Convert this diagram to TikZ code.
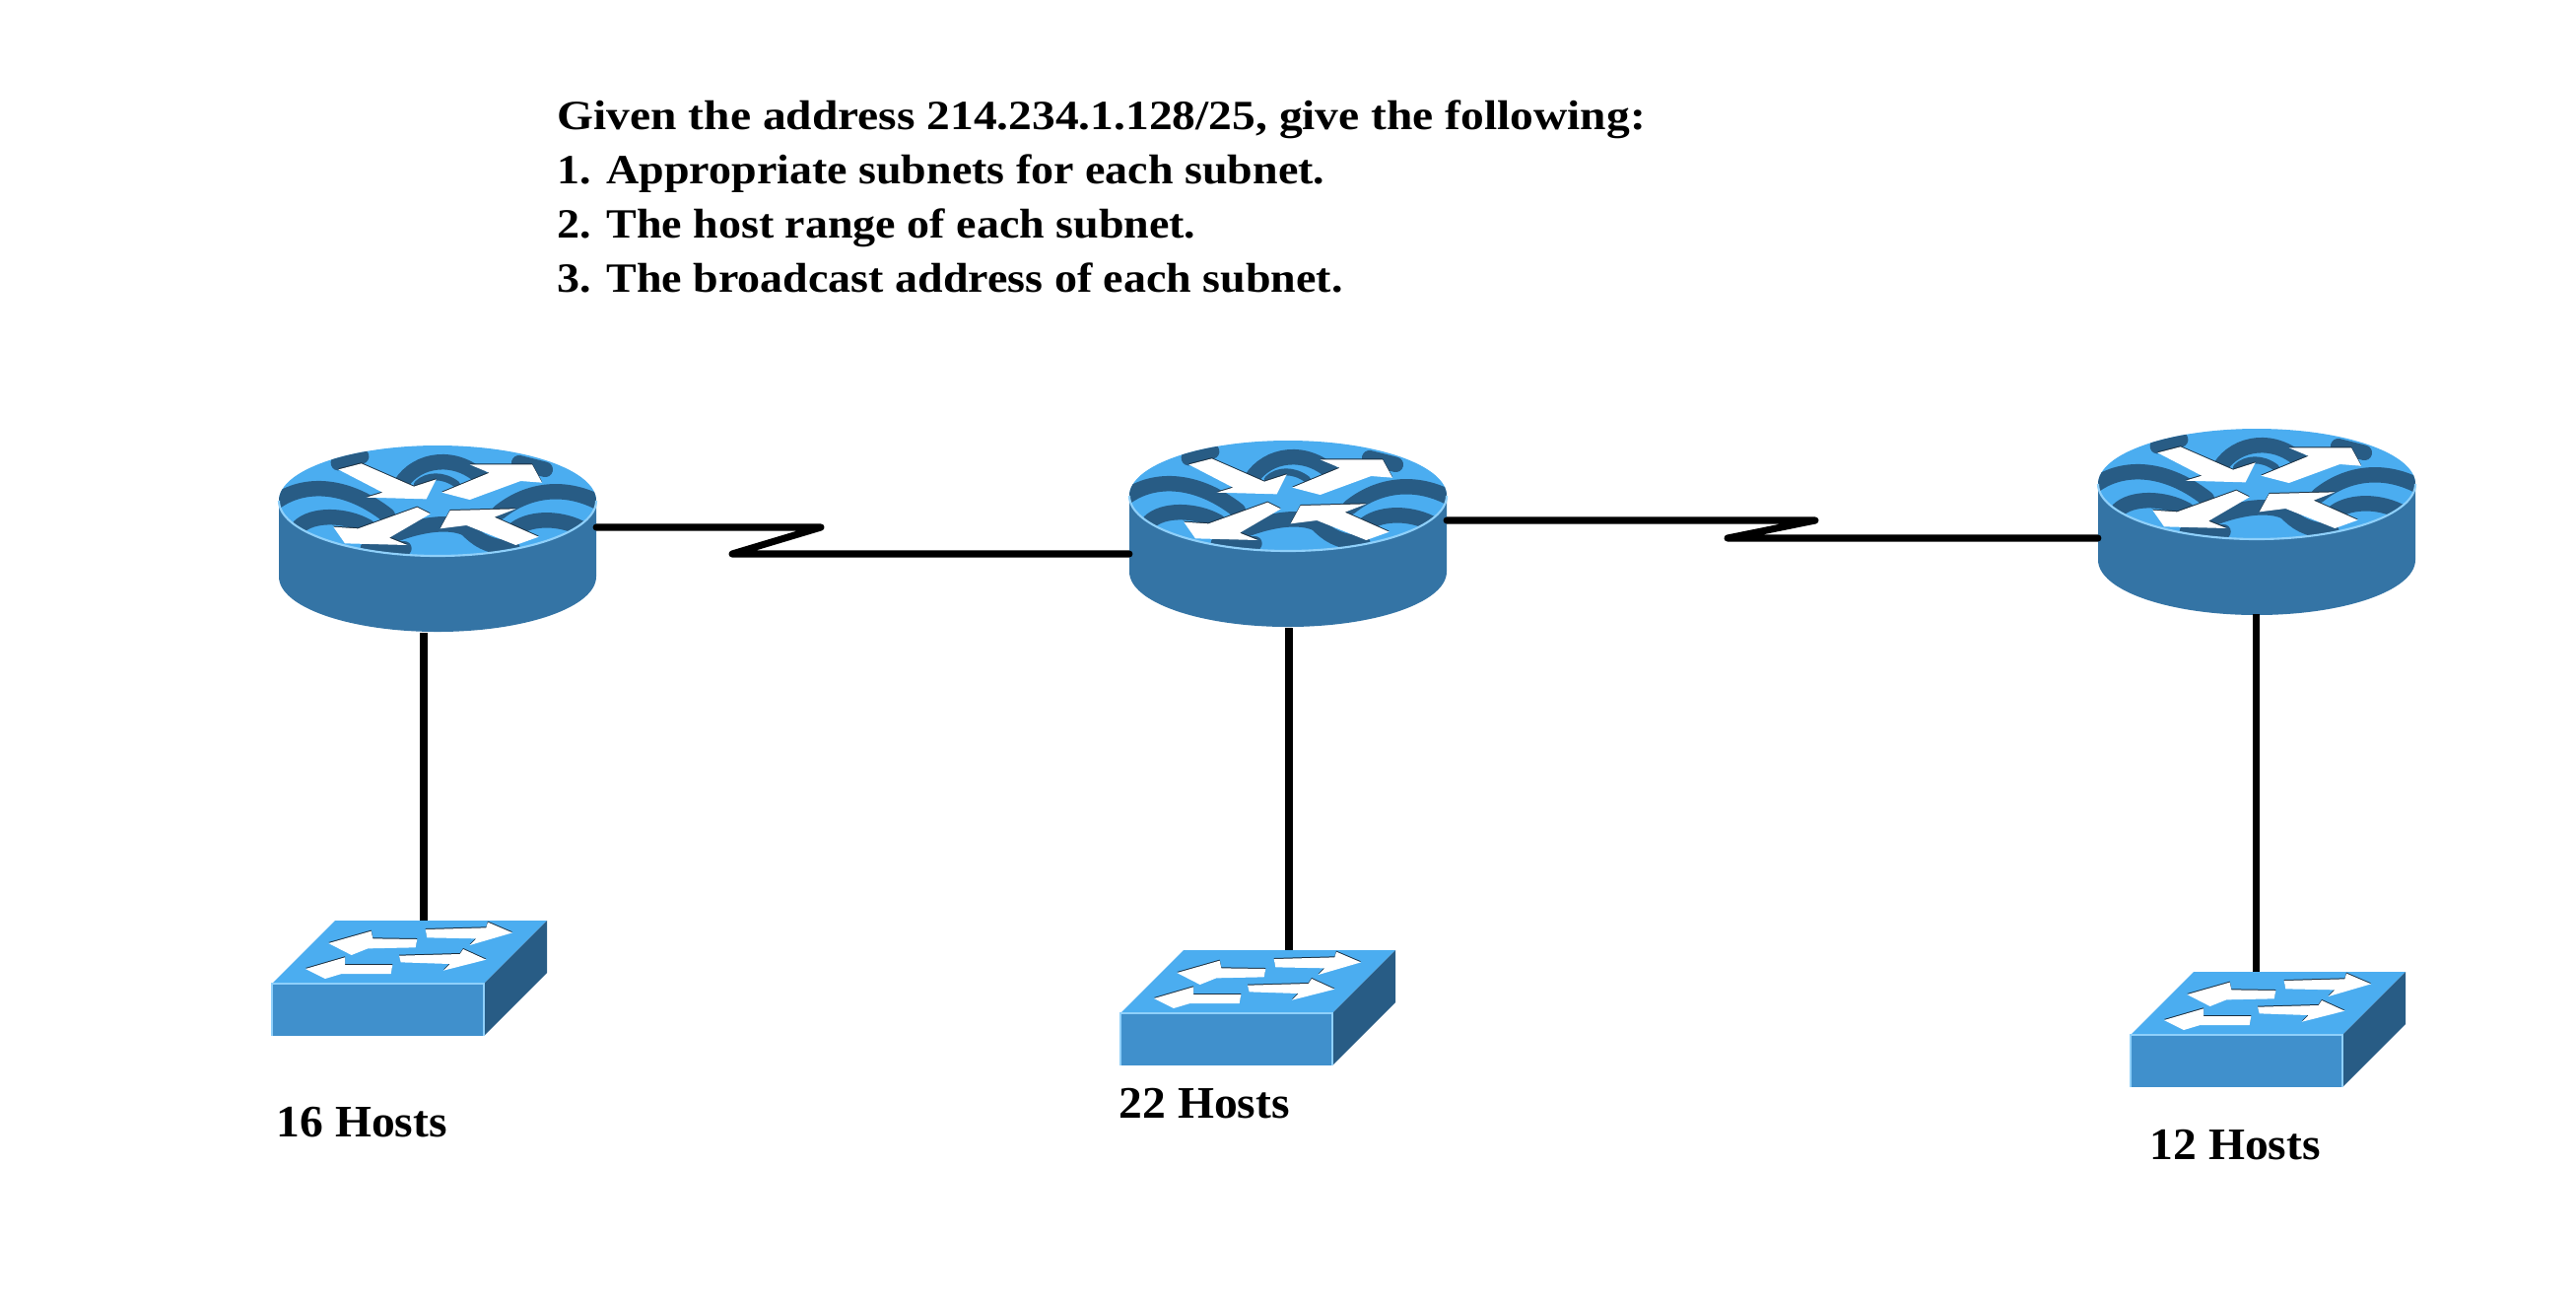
\documentclass[tikz,border=0pt]{standalone}
\usepackage{fontspec}
\setmainfont{Liberation Serif}
\newfontfamily\titlefont[FakeStretch=1.125]{Liberation Serif}
\newfontfamily\itemfont[FakeStretch=1.09]{Liberation Serif}
\newfontfamily\hostfont[FakeStretch=1.04]{Liberation Serif}
\definecolor{topblue}{HTML}{4BADF0}
\definecolor{sideblue}{HTML}{3474A5}
\definecolor{darkblue}{HTML}{285C85}
\definecolor{frontblue}{HTML}{4090CC}
\definecolor{rimblue}{HTML}{8FD0FA}
\definecolor{shadow}{HTML}{1B2F40}
\tikzset{
  link/.style={line width=2pt,black,line cap=round,line join=round},
  hostlabel/.style={font=\hostfont\bfseries\fontsize{13}{15}\selectfont,anchor=base west,inner sep=0pt},
  device/.style={inner sep=0pt,outer sep=0pt,draw=none},
  wave/.style={darkblue,line width=4.4pt,line cap=round},
  routerpic/.pic={
    \fill[sideblue] (-161,0) -- (-161,77) .. controls (-161,108) and (-89,133) .. (0,133)
       .. controls (89,133) and (161,108) .. (161,77) -- (161,0) -- cycle;
    \fill[topblue] (0,0) ellipse [x radius=161,y radius=56];
    \begin{scope}
      \clip (0,0) ellipse [x radius=161,y radius=56];
      \begin{scope}[scale=1/3,shift={(-552,-265)}]
        \draw[wave] (40,285) .. controls (120,210) and (260,200) .. (400,310);
        \draw[wave] (130,345) .. controls (170,305) and (270,305) .. (340,345);
        \draw[wave] (440,215) .. controls (490,135) and (610,120) .. (690,200);
        \draw[wave,line width=2pt] (490,215) .. controls (520,185) and (570,185) .. (610,215);
        \draw[wave] (740,300) .. controls (840,220) and (960,220) .. (1060,280);
        \draw[wave] (790,350) .. controls (840,315) and (930,315) .. (1000,355);
        \draw[wave] (405,375) .. controls (500,335) and (590,325) .. (640,350)
           .. controls (670,380) and (700,405) .. (780,410);
        \draw[wave] (250,150) -- (320,130);
        \draw[wave] (800,150) -- (880,170);
        \draw[wave] (340,410) -- (450,410);
        \foreach \s/\c in {1/shadow,0/white}{
          \begin{scope}[shift={(0,-3*\s)}]
            \fill[\c] (250,170) -- (320,152) -- (480,222) -- (548,200) -- (518,260) -- (335,255) -- (385,240) -- cycle;
            \fill[\c] (565,240) -- (710,180) -- (650,155) -- (840,155) -- (870,210) -- (805,205) -- (650,262) -- cycle;
            \fill[\c] (490,285) -- (530,305) -- (405,378) -- (460,400) -- (270,395) -- (235,345) -- (310,350) -- cycle;
            \fill[\c] (590,295) -- (790,290) -- (725,315) -- (860,375) -- (790,400) -- (640,340) -- (560,350) -- cycle;
          \end{scope}
        }
      \end{scope}
    \end{scope}
    \draw[rimblue,line width=0.6pt] (-161,0) .. controls (-161,31) and (-89,56) .. (0,56)
       .. controls (89,56) and (161,31) .. (161,0);
  },
  switchpic/.pic={
    \fill[frontblue] (0,0) rectangle (215,53);
    \fill[topblue] (0,0) -- (64,-64) -- (279,-64) -- (215,0) -- cycle;
    \fill[darkblue] (215,0) -- (279,-64) -- (279,-11) -- (215,53) -- cycle;
    \draw[rimblue,line width=0.5pt] (0,53) -- (0,0) -- (215,0) -- (215,53);
    \begin{scope}[scale=1/3,shift={(-78,-295)}]
      \foreach \s/\c in {1/shadow,0/white}{
        \begin{scope}[shift={(0,-3*\s)}]
          \fill[\c] (250,172) -- (380,135) -- (385,158) -- (520,160) -- (515,185) -- (370,188) -- (320,208) -- cycle;
          \fill[\c] (180,250) -- (300,215) -- (300,238) -- (445,238) -- (440,265) -- (290,265) -- (240,280) -- cycle;
          \fill[\c] (545,130) -- (730,125) -- (735,108) -- (810,140) -- (680,178) -- (700,158) -- (550,155) -- cycle;
          \fill[\c] (465,210) -- (650,205) -- (660,190) -- (730,222) -- (600,255) -- (620,235) -- (470,230) -- cycle;
        \end{scope}
      }
    \end{scope}
  }
}
\begin{document}
\begin{tikzpicture}[x=0.01cm,y=-0.01cm]
\fill[white] (0,0) rectangle (2614,1320);
\useasboundingbox (0,0) rectangle (2614,1320);

% devices
\pic at (444,508) {routerpic};
\pic at (1307,503) {routerpic};
\pic at (2290,491) {routerpic};
\pic at (276,998) {switchpic};
\pic at (1137,1028) {switchpic};
\pic at (2162,1050) {switchpic};

\node[device,minimum width=3.22cm,minimum height=1.89cm] (r1) at (444,546) {};
\node[device,minimum width=3.22cm,minimum height=1.89cm] (r2) at (1307,541) {};
\node[device,minimum width=3.22cm,minimum height=1.89cm] (r3) at (2290,529) {};
\node[device,minimum width=2.79cm,minimum height=1.17cm] (s1) at (415.5,992.5) {};
\node[device,minimum width=2.79cm,minimum height=1.17cm] (s2) at (1276.5,1022.5) {};
\node[device,minimum width=2.79cm,minimum height=1.17cm] (s3) at (2301.5,1044.5) {};

% serial links, each with its lightning bend
\coordinate (a1) at (833,535);
\coordinate (a2) at (743,562);
\coordinate (b1) at (1842,528);
\coordinate (b2) at (1753,546);
\draw[link] (r1.east |- a1) -- (a1) -- (a2) -- (r2.west |- a2);
\draw[link] (r2.east |- b1) -- (b1) -- (b2) -- (r3.west |- b2);

% LAN links
\draw[link,line cap=butt] (430,642) coordinate (p1) -- (p1 |- s1.north);
\draw[link,line cap=butt] (1308,637) coordinate (p2) -- (p2 |- s2.north);
\draw[link,line cap=butt] (2289,623) coordinate (p3) -- (p3 |- s3.north);

% labels
\node[anchor=north west,inner sep=0pt,align=left,font=\titlefont\bfseries\fontsize{12}{15.65}\selectfont] (title) at (565,101)
  {Given the address 214.234.1.128/25, give the following:\\
   {\itemfont\bfseries 1. Appropriate subnets for each subnet.}\\
   {\itemfont\bfseries 2. The host range of each subnet.}\\
   {\itemfont\bfseries 3. The broadcast address of each subnet.}};
\node[hostlabel] (l1) at (280,1153) {16 Hosts};
\node[hostlabel] (l2) at (1135,1134) {22 Hosts};
\node[hostlabel] (l3) at (2181,1176) {12 Hosts};
\end{tikzpicture}
\end{document}
